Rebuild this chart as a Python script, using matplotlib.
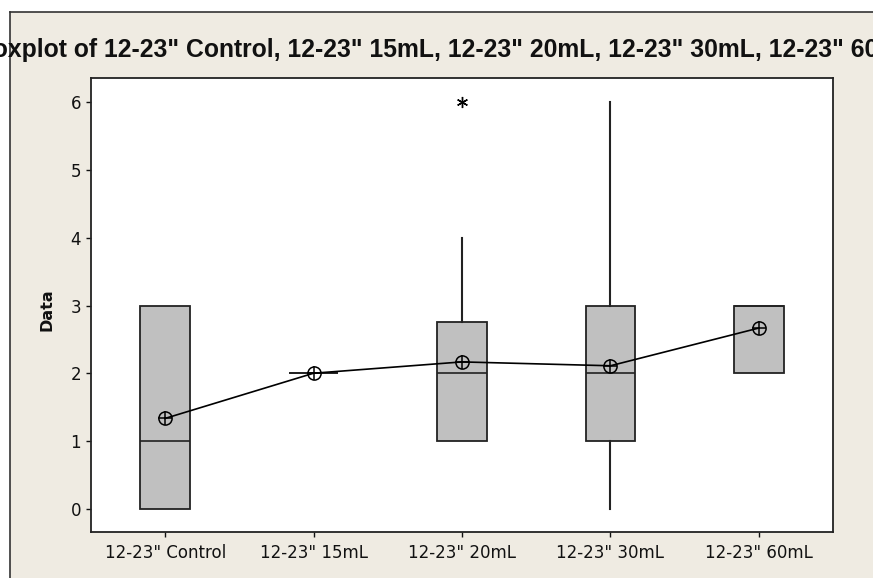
import matplotlib
matplotlib.use('Agg')
import matplotlib.pyplot as plt
from matplotlib.patches import Rectangle
from matplotlib.lines import Line2D

# ---- data ----
categories = ['12-23" Control', '12-23" 15mL', '12-23" 20mL', '12-23" 30mL', '12-23" 60mL']
q1 = [0, 2, 1, 1, 2]
med = [1, 2, 2, 2, 3]
q3 = [3, 2, 2.75, 3, 3]
whislo = [0, 2, 1, 0, 2]
whishi = [3, 2, 4, 6, 3]
fliers = [[], [], [6], [], []]
means = [1.333, 2.0, 2.167, 2.11, 2.667]
yticks = [0, 1, 2, 3, 4, 5, 6]

W, H = 873, 578
fig = plt.figure(figsize=(W / 100, H / 100), dpi=100)
fig.patch.set_facecolor('#EFEBE2')

# outer window frame
fig.add_artist(Rectangle((0, 1 - 12 / H), 1, 12 / H, transform=fig.transFigure,
                         facecolor='white', edgecolor='none', zorder=0))
fig.add_artist(Rectangle((0, 0), 10 / W, 1, transform=fig.transFigure,
                         facecolor='white', edgecolor='none', zorder=0))
fig.add_artist(Line2D([10 / W, 1], [1 - 12 / H, 1 - 12 / H], transform=fig.transFigure,
                      color='#333333', lw=1.2))
fig.add_artist(Line2D([10 / W, 10 / W], [0, 1 - 12 / H], transform=fig.transFigure,
                      color='#333333', lw=1.2))

ax = fig.add_axes([91 / W, 1 - 532 / H, (833 - 91) / W, (532 - 78) / H])
ax.set_facecolor('white')

positions = list(range(1, len(categories) + 1))
stats = []
for i in range(len(categories)):
    stats.append(dict(q1=q1[i], med=med[i], q3=q3[i], whislo=whislo[i],
                      whishi=whishi[i], fliers=fliers[i], label=categories[i]))

ax.bxp(stats, positions=positions, widths=0.333, patch_artist=True,
       showcaps=False, showfliers=True,
       boxprops=dict(facecolor='#C0C0C0', edgecolor='#222222', linewidth=1.3),
       medianprops=dict(color='#222222', linewidth=1.2),
       whiskerprops=dict(color='#222222', linewidth=1.5),
       flierprops=dict(marker=(6, 2, 0), markersize=8, markeredgecolor='black',
                       markeredgewidth=1.0, linestyle='none'))

ax.plot(positions, means, color='black', lw=1.2, zorder=5)
ax.plot(positions, means, linestyle='none', marker='o', markersize=9.5,
        markerfacecolor='none', markeredgecolor='black', markeredgewidth=1.1, zorder=6)
ax.plot(positions, means, linestyle='none', marker='+', markersize=9.5,
        markeredgecolor='black', markeredgewidth=1.1, zorder=6)

ax.set_xlim(0.5, 5.5)
ax.set_ylim(-0.345, 6.36)
ax.set_yticks(yticks)
ax.set_xticks(positions)
ax.set_xticklabels(categories)
ax.tick_params(axis='both', direction='out', length=3.6, width=1, labelsize=12,
               colors='#111111')
ax.tick_params(axis='x', pad=5)
for s in ax.spines.values():
    s.set_color('#222222')
    s.set_linewidth(1.3)

fig.text(47 / W, 1 - 310 / H, 'Data', rotation=90, ha='center', va='center',
         fontsize=11.5, fontweight='bold', color='#111111')

# title, clipped by the figure edges as in the original window
title_font = ['Liberation Sans', 'DejaVu Sans']
title_full = 'Boxplot of ' + ', '.join(categories)
renderer = fig.canvas.get_renderer()
visible = title_full[2:-3]  # "xplot of ... 12-23\" 6"
tmp = fig.text(0, 0, visible, fontsize=13, fontweight='bold', family=title_font)
w = tmp.get_window_extent(renderer).width
fs = 13 * 855 / w
tmp.remove()
tmp = fig.text(0, 0, 'Bo', fontsize=fs, fontweight='bold', family=title_font)
wbo = tmp.get_window_extent(renderer).width
tmp.remove()
fig.text((8 - wbo) / W, 1 - 57 / H, title_full, fontsize=fs, fontweight='bold',
         family=title_font, ha='left', va='baseline', color='#111111')

fig.savefig('out.png', dpi=100, facecolor=fig.get_facecolor())
